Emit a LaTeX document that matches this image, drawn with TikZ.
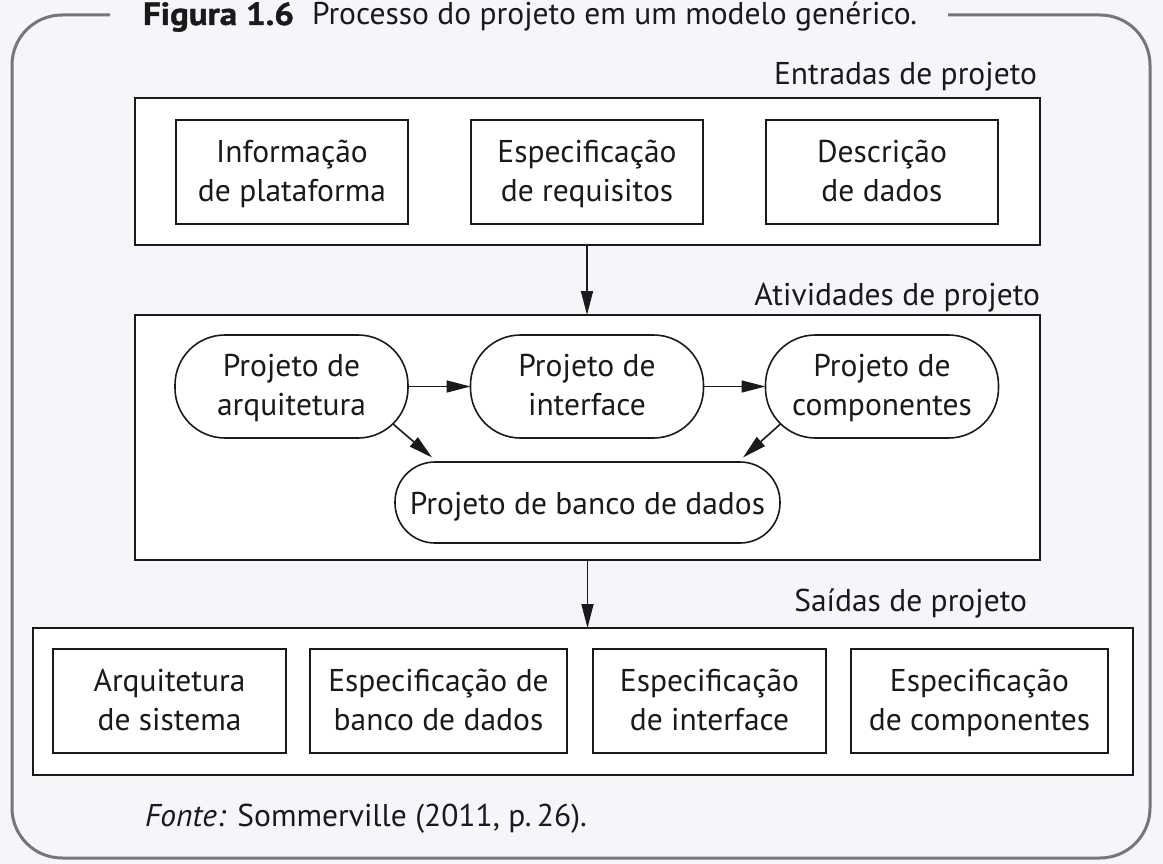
\documentclass[tikz,border=0pt]{standalone}
\usepackage{fontspec}
\setmainfont{PT Sans}
\newfontfamily\titlebf[FakeStretch=1.09,FakeBold=1.2]{PT Sans}
\usetikzlibrary{arrows.meta}
\definecolor{bgc}{HTML}{F4F6FA}
\definecolor{framec}{HTML}{767676}
\definecolor{inkc}{HTML}{1A1A1A}
\begin{document}
\begin{tikzpicture}[x=1pt,y=-1pt,
  every node/.style={inner sep=0pt, outer sep=0pt, text=inkc},
  txt/.style={font=\fontsize{31.5}{39}\selectfont},
  grp/.style={draw=inkc, line width=1.6pt, fill=white},
  two/.style={text height=61pt, text depth=3pt},
  boxn/.style={grp, txt, two, align=center, minimum height=104pt},
  pill/.style={draw=inkc, line width=1.6pt, fill=white, txt, two, align=center, rounded corners=50pt, minimum height=103pt, minimum width=233pt},
  arr/.style={draw=inkc, line width=1.6pt, -{Triangle[length=24pt,width=12pt]}},
  lbl/.style={txt, anchor=base east},
]
\useasboundingbox (0,0) rectangle (1163,864);
\fill[bgc] (0,0) rectangle (1163,864);
% frame
\draw[framec, line width=3pt, rounded corners=50pt] (110,15) -- (12,15) -- (12,858) -- (1150,858) -- (1150,15) -- (948,15);
% title
\node[anchor=base west, font=\fontsize{32}{36}\titlebf\bfseries] (tnum) at (143,25) {Figura 1.6};
\node[anchor=base west, font=\fontsize{31.5}{36}\selectfont] (title) at (312,25) {Processo do projeto em um modelo genérico.};

% Entradas
\node[lbl] (lin) at (1037,85) {Entradas de projeto};
\node[grp, minimum width=905pt, minimum height=147pt] (gin) at (587.5,171.5) {};
\node[boxn, minimum width=232pt] (i1) at (292,172) {Informação\\de plataforma};
\node[boxn, minimum width=232pt] (i2) at (587,172) {Especificação\\de requisitos};
\node[boxn, minimum width=232pt] (i3) at (882,172) {Descrição\\de dados};

% Atividades
\node[lbl] (lact) at (1040,305) {Atividades de projeto};
\node[grp, minimum width=905pt, minimum height=245pt] (gact) at (587.5,437.5) {};
\node[pill] (a1) at (291.5,386.5) {Projeto de\\arquitetura};
\node[pill] (a2) at (587,386.5) {Projeto de\\interface};
\node[pill] (a3) at (882,386.5) {Projeto de\\componentes};
\node[pill, text height=24pt, text depth=0pt, rounded corners=40pt, minimum height=81pt, minimum width=385pt] (a4) at (587.5,502.5) {Projeto de banco de dados};

% Saidas
\node[lbl] (lout) at (1027,611) {Saídas de projeto};
\node[grp, minimum width=1100pt, minimum height=147pt] (gout) at (583,701.5) {};
\node[boxn, minimum width=233pt] (o1) at (169.5,701) {Arquitetura\\de sistema};
\node[boxn, minimum width=257pt] (o2) at (438.5,701) {Especificação de\\banco de dados};
\node[boxn, minimum width=233pt] (o3) at (709.5,701) {Especificação\\de interface};
\node[boxn, minimum width=257pt] (o4) at (979.5,701) {Especificação\\de componentes};

% source
\node[txt, anchor=base west] (src) at (145,826) {\textit{Fonte:} Sommerville (2011, p.\,26).};

% connectors
\draw[arr] (gin.south -| i2) -- (gact.north -| i2);
\draw[arr] (gact.south -| a4) -- (gout.north -| a4);
\draw[arr] (a1.east) -- (a2.west);
\draw[arr] (a2.east) -- (a3.west);
\coordinate (d1s) at ([shift={(101,37)}]a1.center);
\coordinate (d1e) at ([shift={(-155.5,-45)}]a4.center);
\coordinate (d2s) at ([shift={(-101,37)}]a3.center);
\coordinate (d2e) at ([shift={(155.5,-45)}]a4.center);
\draw[arr] (d1s) -- (d1e);
\draw[arr] (d2s) -- (d2e);
\end{tikzpicture}
\end{document}
